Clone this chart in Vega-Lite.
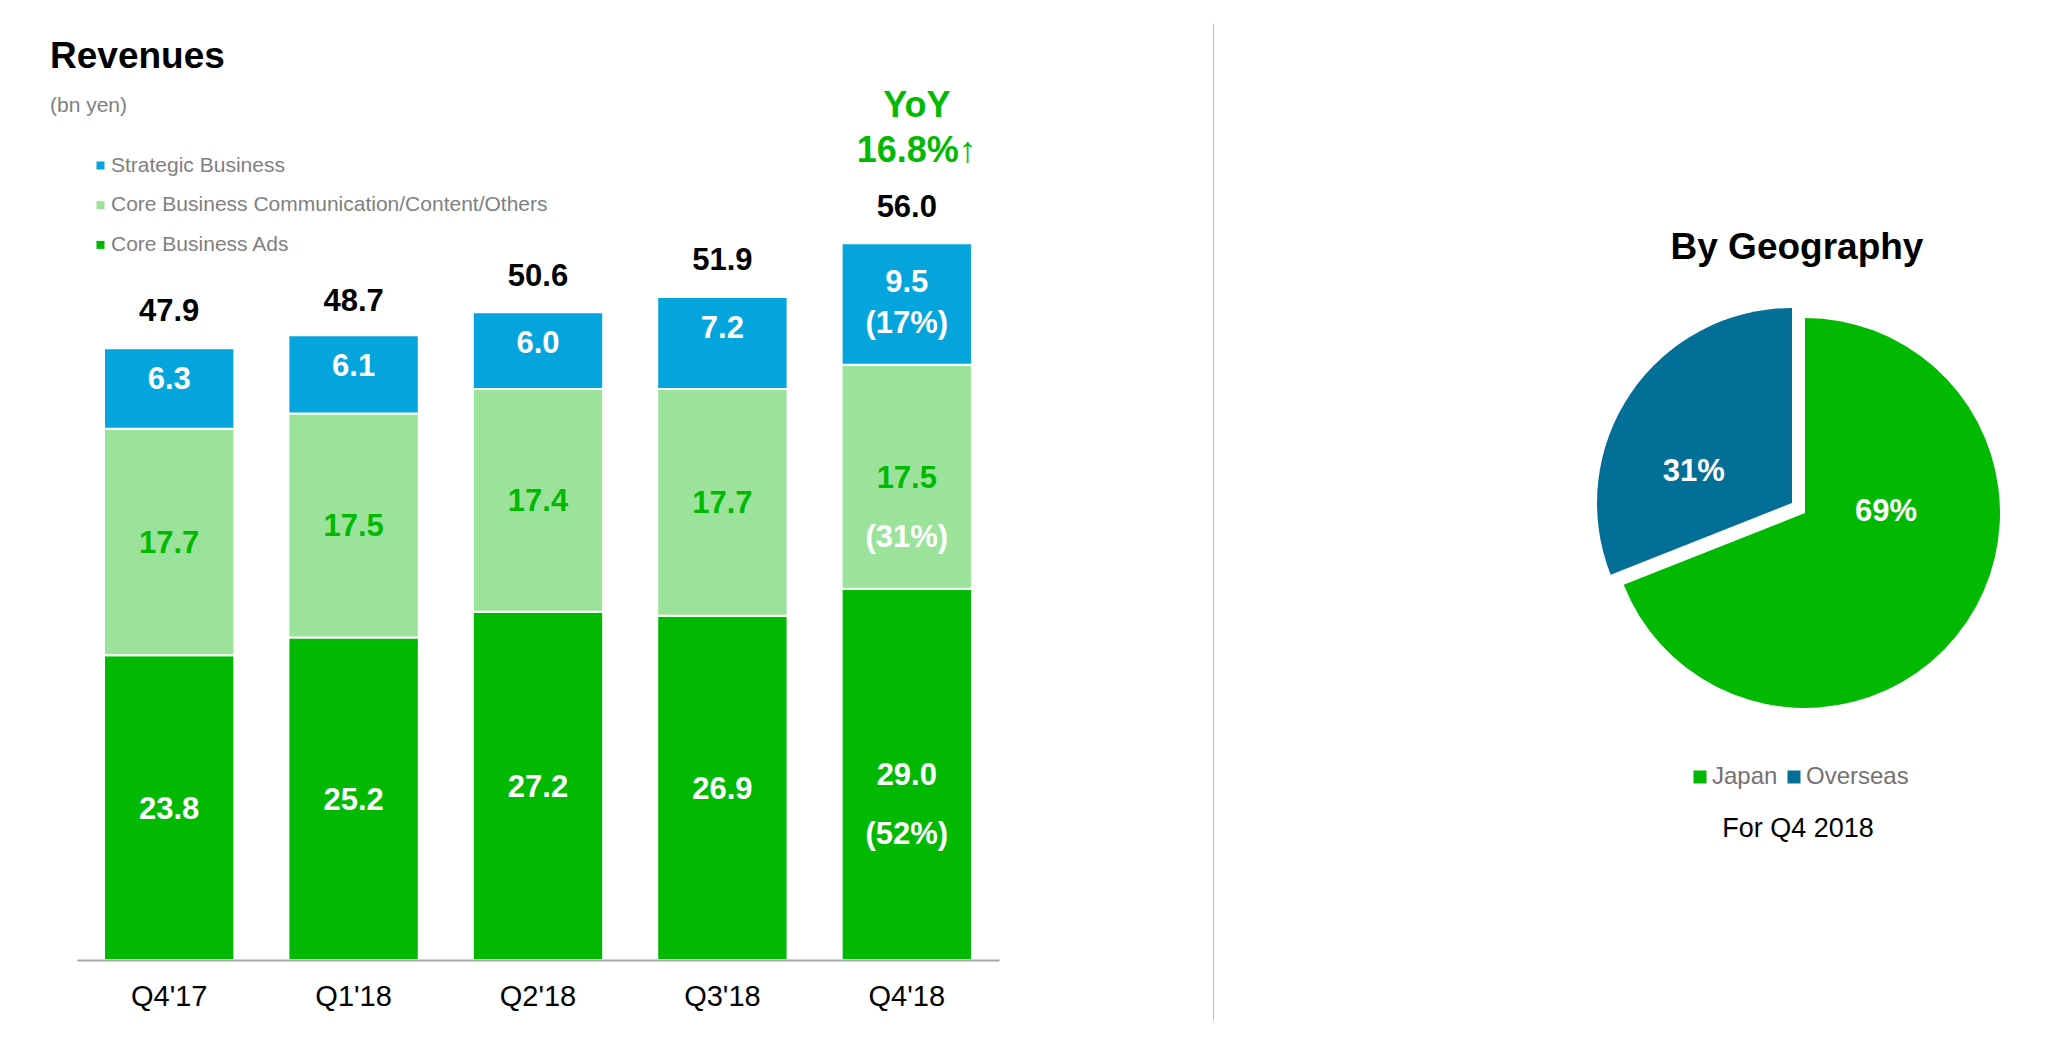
{
  "$schema": "https://vega.github.io/schema/vega-lite/v6.json",
  "padding": {"left": 50, "top": 23, "right": 13, "bottom": 37},
  "spacing": 342,
  "config": {"font": "Liberation Sans", "view": {"stroke": null}},
  "resolve": {"scale": {"color": "independent"}, "legend": {"color": "independent"}},
  "hconcat": [
    {
      "width": 922,
      "height": 997,
      "title": {"text": "Revenues", "subtitle": "(bn yen)", "anchor": "start", "dx": -27, "offset": -94, "fontSize": 37, "fontWeight": "bold", "color": "black", "font": "Liberation Sans", "subtitleFont": "Liberation Sans", "subtitleFontSize": 21, "subtitleColor": "#7f7f7f", "subtitlePadding": 19},
      "data": {"values": [
        {"quarter": "Q4'17", "segment": "Core Business Ads", "value": 23.8},
        {"quarter": "Q4'17", "segment": "Core Business Communication/Content/Others", "value": 17.7},
        {"quarter": "Q4'17", "segment": "Strategic Business", "value": 6.3},
        {"quarter": "Q1'18", "segment": "Core Business Ads", "value": 25.2},
        {"quarter": "Q1'18", "segment": "Core Business Communication/Content/Others", "value": 17.5},
        {"quarter": "Q1'18", "segment": "Strategic Business", "value": 6.1},
        {"quarter": "Q2'18", "segment": "Core Business Ads", "value": 27.2},
        {"quarter": "Q2'18", "segment": "Core Business Communication/Content/Others", "value": 17.4},
        {"quarter": "Q2'18", "segment": "Strategic Business", "value": 6.0},
        {"quarter": "Q3'18", "segment": "Core Business Ads", "value": 26.9},
        {"quarter": "Q3'18", "segment": "Core Business Communication/Content/Others", "value": 17.7},
        {"quarter": "Q3'18", "segment": "Strategic Business", "value": 7.2},
        {"quarter": "Q4'18", "segment": "Core Business Ads", "value": 29.0, "pct": "(52%)"},
        {"quarter": "Q4'18", "segment": "Core Business Communication/Content/Others", "value": 17.5, "pct": "(31%)"},
        {"quarter": "Q4'18", "segment": "Strategic Business", "value": 9.5, "pct": "(17%)"}
      ]},
      "encoding": {
        "x": {
          "field": "quarter", "type": "nominal",
          "sort": ["Q4'17", "Q1'18", "Q2'18", "Q3'18", "Q4'18"],
          "scale": {"paddingInner": 0.293, "paddingOuter": 0.1465},
          "axis": {"title": null, "labelAngle": 0, "offset": -60, "ticks": false, "tickSize": 0, "labelPadding": 22, "labelFontSize": 29, "labelColor": "black", "labelFont": "Liberation Sans", "domainColor": "#a6a6a6", "domainWidth": 2, "zindex": 1, "grid": false}
        }
      },
      "layer": [
        {
          "mark": {"type": "bar", "stroke": "white", "strokeWidth": 2},
          "encoding": {
            "y": {
              "field": "value", "type": "quantitative", "stack": "zero",
              "scale": {"domain": [-4.6875, 73.203], "nice": false, "zero": false},
              "axis": {"orient": "right", "offset": 214, "title": null, "domain": true, "domainColor": "#bfbfbf", "domainWidth": 1, "ticks": false, "labels": false, "grid": false}
            },
            "color": {
              "field": "segment", "type": "nominal",
              "scale": {"domain": ["Strategic Business", "Core Business Communication/Content/Others", "Core Business Ads"], "range": ["#04a4dc", "#9be39b", "#00b900"]},
              "legend": {"orient": "none", "legendX": 13, "legendY": 132, "title": null, "symbolType": "square", "symbolSize": 64, "symbolStrokeWidth": 0, "labelFontSize": 21, "labelColor": "#7f7f7f", "labelFont": "Liberation Sans", "labelLimit": 800, "rowPadding": 17.7, "labelOffset": 0}
            },
            "order": {"field": "segment", "sort": "ascending"}
          }
        },
        {
          "mark": {"type": "text", "fontSize": 31, "fontWeight": "bold", "baseline": "middle", "dy": 2},
          "encoding": {
            "y": {"field": "value", "type": "quantitative", "stack": "zero", "bandPosition": 0.5},
            "order": {"field": "segment", "sort": "ascending"},
            "text": {"condition": {"test": "datum.segment === 'Strategic Business'", "value": ""}, "field": "value", "type": "quantitative", "format": ".1f"},
            "color": {"condition": {"test": "datum.segment === 'Core Business Communication/Content/Others'", "value": "#00b900"}, "value": "white"}
          }
        },
        {
          "mark": {"type": "text", "fontSize": 31, "fontWeight": "bold", "baseline": "middle", "dy": 32, "color": "white"},
          "encoding": {
            "y": {"field": "value", "type": "quantitative", "stack": "zero"},
            "order": {"field": "segment", "sort": "ascending"},
            "text": {"condition": {"test": "!datum.pct && datum.segment === 'Strategic Business'", "field": "value", "type": "quantitative", "format": ".1f"}, "value": ""}
          }
        },
        {
          "mark": {"type": "text", "fontSize": 31, "fontWeight": "bold", "baseline": "middle", "dy": -21, "color": "white"},
          "encoding": {
            "y": {"field": "value", "type": "quantitative", "stack": "zero", "bandPosition": 0.5},
            "order": {"field": "segment", "sort": "ascending"},
            "text": {"condition": {"test": "datum.pct && datum.segment === 'Strategic Business'", "field": "value", "type": "quantitative", "format": ".1f"}, "value": ""}
          }
        },
        {
          "mark": {"type": "text", "fontSize": 31, "fontWeight": "bold", "baseline": "middle", "dy": 20, "color": "white"},
          "encoding": {
            "y": {"field": "value", "type": "quantitative", "stack": "zero", "bandPosition": 0.5},
            "order": {"field": "segment", "sort": "ascending"},
            "text": {"condition": {"test": "datum.pct && datum.segment === 'Strategic Business'", "field": "pct", "type": "nominal"}, "value": ""}
          }
        },
        {
          "mark": {"type": "text", "fontSize": 31, "fontWeight": "bold", "baseline": "middle", "dy": 61, "color": "white"},
          "encoding": {
            "y": {"field": "value", "type": "quantitative", "stack": "zero", "bandPosition": 0.5},
            "order": {"field": "segment", "sort": "ascending"},
            "text": {"condition": {"test": "datum.pct && datum.segment !== 'Strategic Business'", "field": "pct", "type": "nominal"}, "value": ""}
          }
        },
        {
          "data": {"values": [
            {"quarter": "Q4'17", "total": 47.9},
            {"quarter": "Q1'18", "total": 48.7},
            {"quarter": "Q2'18", "total": 50.6},
            {"quarter": "Q3'18", "total": 51.9},
            {"quarter": "Q4'18", "total": 56.0}
          ]},
          "mark": {"type": "text", "fontSize": 31, "fontWeight": "bold", "baseline": "alphabetic", "dy": -26, "color": "black"},
          "encoding": {
            "y": {"field": "total", "type": "quantitative"},
            "text": {"field": "total", "type": "quantitative", "format": ".1f"}
          }
        },
        {
          "data": {"values": [{"quarter": "Q4'18", "total": 56.0, "note": "YoY\n16.8%↑"}]},
          "mark": {"type": "text", "fontSize": 36, "fontWeight": "bold", "baseline": "alphabetic", "lineBreak": "\n", "lineHeight": 45, "dy": -126, "dx": 10, "color": "#00b900"},
          "encoding": {
            "y": {"field": "total", "type": "quantitative"},
            "text": {"field": "note", "type": "nominal"}
          }
        }
      ]
    },
    {
      "width": 500,
      "height": 980,
      "title": {"text": "By Geography", "fontSize": 37, "fontWeight": "bold", "color": "black", "font": "Liberation Sans", "offset": -244, "dx": -8},
      "data": {"values": [
        {"region": "Japan", "share": 69, "label": "69%"},
        {"region": "Overseas", "share": 31, "label": "31%"}
      ]},
      "encoding": {
        "theta": {"field": "share", "type": "quantitative", "stack": true},
        "order": {"field": "region", "sort": "ascending"}
      },
      "layer": [
        {
          "mark": {"type": "arc", "radius": 195},
          "encoding": {
            "color": {
              "field": "region", "type": "nominal",
              "scale": {"domain": ["Japan", "Overseas"], "range": ["#00b900", "#036f97"]},
              "legend": {"orient": "none", "legendX": 133, "legendY": 742, "direction": "horizontal", "title": "For Q4 2018", "titleOrient": "bottom", "titleAnchor": "middle", "titleFontSize": 27, "titleFontWeight": "normal", "titleColor": "black", "titleFont": "Liberation Sans", "titlePadding": 27, "labelFontSize": 24, "labelColor": "#767171", "labelFont": "Liberation Sans", "symbolType": "square", "symbolSize": 169, "symbolStrokeWidth": 0, "columnPadding": 4, "labelOffset": 0}
            },
            "opacity": {"condition": {"test": "datum.region === 'Overseas'", "value": 0}, "value": 1}
          }
        },
        {
          "mark": {"type": "arc", "radius": 195, "xOffset": -13, "yOffset": -10},
          "encoding": {
            "color": {"field": "region", "type": "nominal"},
            "opacity": {"condition": {"test": "datum.region === 'Japan'", "value": 0}, "value": 1}
          }
        },
        {
          "mark": {"type": "text", "radius": 81, "dx": 14, "dy": -47, "fontSize": 31, "fontWeight": "bold", "color": "white", "baseline": "middle"},
          "encoding": {
            "text": {"condition": {"test": "datum.region === 'Japan'", "field": "label", "type": "nominal"}, "value": ""}
          }
        },
        {
          "mark": {"type": "text", "radius": 103, "dx": -26, "dy": 17, "fontSize": 31, "fontWeight": "bold", "color": "white", "baseline": "middle"},
          "encoding": {
            "text": {"condition": {"test": "datum.region === 'Overseas'", "field": "label", "type": "nominal"}, "value": ""}
          }
        }
      ]
    }
  ]
}
